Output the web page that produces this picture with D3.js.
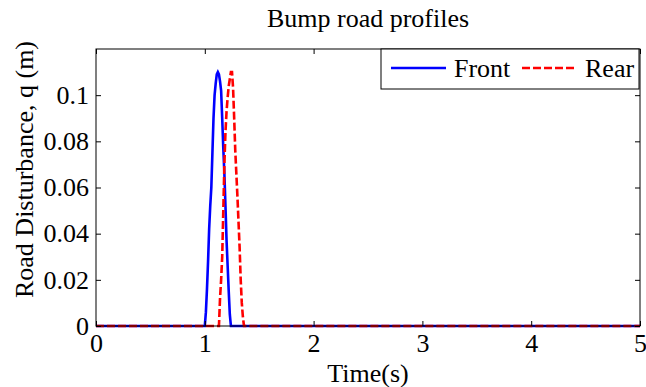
<!DOCTYPE html>
<html>
<head>
<meta charset="utf-8">
<script src="https://cdn.jsdelivr.net/npm/d3@7"></script>
<style>
  body { margin: 0; background: #fff; }
  text { font-family: "Liberation Serif", "Times New Roman", serif; fill: #000; }
</style>
</head>
<body>
<div class="chart"><svg></svg></div>
<script>
// front wheel: time (s) and road disturbance q (m)
const frontTime = [0, 1.00, 1.01, 1.02, 1.03, 1.04, 1.05, 1.06, 1.07, 1.08, 1.09, 1.10, 1.11, 1.12,
  1.13, 1.14, 1.15, 1.16, 1.17, 1.18, 1.19, 1.20, 1.21, 1.22, 1.23, 1.24, 5];
const frontQ = [0, 0, 0.006, 0.016, 0.028, 0.042, 0.052, 0.060, 0.075, 0.090, 0.100, 0.105, 0.109, 0.110,
  0.109, 0.106, 0.102, 0.090, 0.077, 0.066, 0.052, 0.037, 0.026, 0.015, 0.005, 0, 0];

// rear wheel: time (s) and road disturbance q (m)
const rearTime = [0, 1.13, 1.14, 1.15, 1.16, 1.17, 1.18, 1.19, 1.20, 1.21, 1.22, 1.23, 1.24, 1.25,
  1.26, 1.27, 1.28, 1.29, 1.30, 1.31, 1.32, 1.33, 1.34, 1.35, 1.36, 5];
const rearQ = [0, 0, 0.012, 0.020, 0.030, 0.050, 0.070, 0.084, 0.093, 0.099, 0.104, 0.107, 0.110, 0.110,
  0.103, 0.090, 0.076, 0.066, 0.056, 0.045, 0.034, 0.020, 0.010, 0.004, 0, 0];

// tick values
const xTicks = [0, 1, 2, 3, 4, 5];
const yTicks = [0, 0.02, 0.04, 0.06, 0.08, 0.1];
const seriesNames = ["Front", "Rear"];

const W = 646, H = 387;
const margin = { top: 49, right: 6, bottom: 61, left: 96 };
const width = W - margin.left - margin.right;
const height = H - margin.top - margin.bottom;

const root = d3.select(".chart svg").attr("width", W).attr("height", H);
root.append("rect").attr("width", W).attr("height", H).attr("fill", "#fff");

const svg = root.append("g")
  .attr("transform", "translate(" + margin.left + "," + margin.top + ")");

const x = d3.scaleLinear().domain([0, 5]).range([0, width]);
const y = d3.scaleLinear().domain([0, 0.12]).range([height, 0]);

svg.append("clipPath").attr("id", "clip")
  .append("rect").attr("x", -2).attr("y", -2).attr("width", width + 4).attr("height", height + 4);

// lines
const line = d3.line().x((d) => x(d[0])).y((d) => y(d[1]));
const front = frontTime.map((t, i) => [t, frontQ[i]]);
const rear = rearTime.map((t, i) => [t, rearQ[i]]);

svg.append("path").datum(front)
  .attr("clip-path", "url(#clip)")
  .attr("d", line).attr("fill", "none")
  .attr("stroke", "#0000ff").attr("stroke-width", 2.6);

svg.append("path").datum(rear)
  .attr("clip-path", "url(#clip)")
  .attr("d", line).attr("fill", "none")
  .attr("stroke", "#ff0000").attr("stroke-width", 2.6)
  .attr("stroke-dasharray", "8,3");

// axes, ticks pointing inwards (matlab style)
const fontSize = "26px";
const serif = "'Liberation Serif', 'Times New Roman', serif";
svg.append("g")
  .attr("transform", "translate(0," + height + ")")
  .call(d3.axisBottom(x).tickValues(xTicks).tickFormat(d3.format("d"))
    .tickSizeInner(-5).tickSizeOuter(0).tickPadding(8));
svg.append("g")
  .call(d3.axisLeft(y).tickValues(yTicks).tickFormat((d) => (d === 0 ? "0" : d3.format("~g")(d)))
    .tickSizeInner(-5).tickSizeOuter(0).tickPadding(7));
svg.append("g")
  .call(d3.axisTop(x).tickValues(xTicks).tickFormat("").tickSizeInner(-5).tickSizeOuter(0));
svg.append("g")
  .attr("transform", "translate(" + width + ",0)")
  .call(d3.axisRight(y).tickValues(yTicks).tickFormat("").tickSizeInner(-5).tickSizeOuter(0));

svg.selectAll(".domain").remove();
svg.selectAll("g").attr("font-family", serif);
svg.selectAll(".tick line").attr("stroke", "#000");
svg.selectAll(".tick text")
  .attr("font-family", serif)
  .style("font-size", fontSize).attr("fill", "#000");

// box
svg.append("rect")
  .attr("width", width).attr("height", height)
  .attr("fill", "none").attr("stroke", "#000").attr("stroke-width", 1);

// title and labels
svg.append("text")
  .attr("x", width / 2).attr("y", -22)
  .attr("text-anchor", "middle").style("font-size", "26px")
  .text("Bump road profiles");

svg.append("text")
  .attr("x", width / 2).attr("y", height + 56)
  .attr("text-anchor", "middle").style("font-size", fontSize)
  .text("Time(s)");

svg.append("text")
  .attr("text-anchor", "middle")
  .attr("transform", "translate(" + (-margin.left + 33) + "," + (height / 2 - 18) + ")rotate(-90)")
  .style("font-size", fontSize)
  .text("Road Disturbance, q (m)");

// legend
const legend = svg.append("g").attr("transform", "translate(" + (width - 259) + ",0)");
legend.append("rect")
  .attr("width", 258).attr("height", 40)
  .attr("fill", "#fff").attr("stroke", "#000").attr("stroke-width", 1);

const legendItems = [
  { name: seriesNames[0], color: "#0000ff", dash: null, x0: 10 },
  { name: seriesNames[1], color: "#ff0000", dash: "8,3", x0: 141 },
];
legendItems.forEach((d) => {
  legend.append("line")
    .attr("x1", d.x0).attr("x2", d.x0 + 55).attr("y1", 19).attr("y2", 19)
    .attr("stroke", d.color).attr("stroke-width", 2.6)
    .attr("stroke-dasharray", d.dash);
  legend.append("text")
    .attr("x", d.x0 + 63).attr("y", 28)
    .style("font-size", fontSize)
    .text(d.name);
});
</script>
</body>
</html>
